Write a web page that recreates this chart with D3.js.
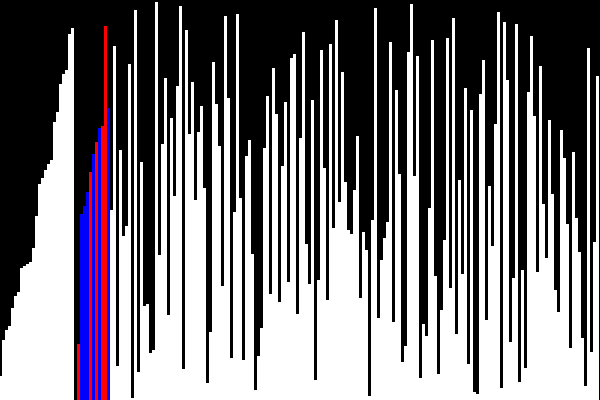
<!DOCTYPE html>
<html>
<head>
<meta charset="utf-8">
<script src="https://cdn.jsdelivr.net/npm/d3@7"></script>
<style>
  html, body { margin: 0; padding: 0; background: #000; overflow: hidden; }
  svg { display: block; }
</style>
</head>
<body>
<svg id="chart" width="600" height="400"></svg>
<script>
// array state, one value per bar
const values = [
    24, 60, 70, 74, 92, 104, 108, 132, 134, 136,
    138, 152, 184, 216, 222, 230, 236, 240, 278, 288,
    316, 326, 330, 366, 372, 0, 56, 186, 194, 208,
    228, 246, 258, 272, 274, 374, 292, 190, 354, 34,
    250, 164, 174, 336, 2, 390, 28, 238, 94, 96,
    47, 50, 398, 145, 256, 322, 85, 282, 204, 314,
    394, 31, 370, 266, 318, 200, 268, 294, 212, 17,
    68, 338, 296, 254, 114, 384, 302, 42, 188, 386,
    202, 40, 244, 260, 146, 10, 44, 72, 252, 304,
    106, 332, 286, 98, 234, 298, 118, 342, 346, 86,
    262, 368, 156, 116, 300, 20, 120, 350, 232, 100,
    356, 172, 380, 198, 328, 218, 170, 166, 210, 264,
    102, 168, 150, 4, 180, 392, 82, 140, 162, 178,
    358, 78, 310, 226, 38, 54, 348, 396, 224, 344,
    22, 76, 64, 192, 360, 124, 26, 90, 160, 362,
    112, 382, 66, 220, 126, 312, 36, 290, 8, 6,
    306, 340, 80, 214, 154, 276, 388, 12, 378, 320,
    58, 122, 376, 18, 130, 32, 308, 364, 284, 128,
    334, 196, 142, 280, 206, 110, 88, 270, 242, 176,
    52, 248, 182, 148, 62, 14, 352, 48, 158, 324
];

// indices highlighted in the current step
const redIdx = [26, 30, 32, 34, 35];
const blueIdx = [27, 28, 29, 31, 33, 36];

const width = 600, height = 400;

const svg = d3.select("#chart");

svg.append("rect")
    .attr("width", width)
    .attr("height", height)
    .attr("fill", "#000");

// bars sit on a 3px grid shifted one pixel left
const x = d3.scaleBand()
    .domain(d3.range(values.length))
    .range([-1, width - 1])
    .padding(0);

const y = d3.scaleLinear()
    .domain([0, 400])
    .range([height, 0]);

function barColor(i) {
    if (redIdx.includes(i)) return "#ff0000";
    if (blueIdx.includes(i)) return "#0000ff";
    return "#ffffff";
}

svg.append("g")
    .attr("shape-rendering", "crispEdges")
    .selectAll("rect")
    .data(values)
    .join("rect")
    .attr("x", (d, i) => x(i))
    .attr("y", d => y(d))
    .attr("width", x.bandwidth())
    .attr("height", d => height - y(d))
    .attr("fill", (d, i) => barColor(i));
</script>
</body>
</html>
